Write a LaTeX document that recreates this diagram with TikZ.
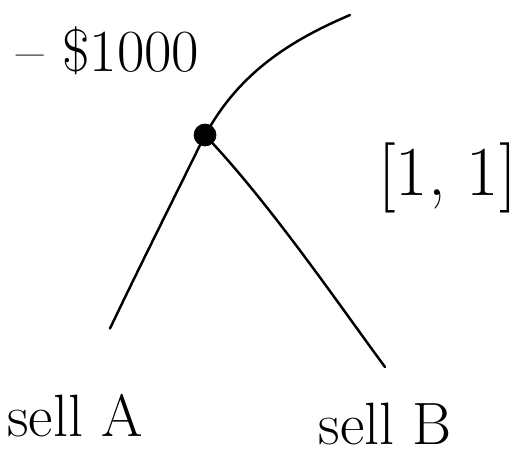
\documentclass[tikz,border=0pt]{standalone}
\usepackage{tikz}
\usetikzlibrary{positioning}

\begin{document}
\begin{tikzpicture}[
  every node/.style={font=\fontsize{34pt}{38pt}\selectfont},
  branch/.style={line width=1.4pt, line cap=round},
  dotnode/.style={circle, fill=black, draw=black, inner sep=0pt, minimum size=4.4mm},
]
  \useasboundingbox (0,0) rectangle (10.34,9.12);

  % Decision node
  \node[dotnode] (root) at (4.1,6.42) {};
  \coordinate (top) at (7.0,8.82);
  \coordinate (endA) at (2.2,2.55);
  \coordinate (endB) at (7.7,1.78);

  % Branches
  \draw[branch] (root) .. controls (4.9,7.75) and (5.9,8.35) .. (top);
  \draw[branch] (root) .. controls (3.4,5.0) and (2.7,3.6) .. (endA);
  \draw[branch] (root) .. controls (5.5,4.9) and (6.8,3.0) .. (endB);

  % Labels
  \node (cost) at (2.16,8.1) {-- \$1000};
  \node[font=\fontsize{40pt}{44pt}\selectfont] (prob) at (8.95,5.56) {[1, 1]};
  \node[below=12mm of endA, xshift=-7mm] (sellA) {sell A};
  \node[below=6mm of endB] (sellB) {sell B};
\end{tikzpicture}
\end{document}
